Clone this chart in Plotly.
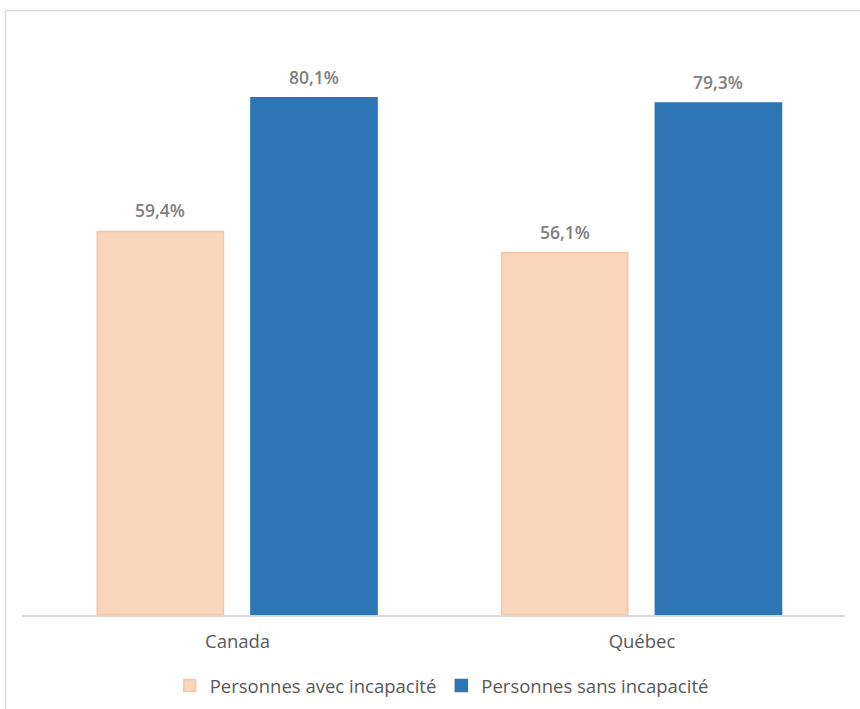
import plotly.graph_objects as go

# Taux d'emploi selon la présence d'une incapacité
categories = ["Canada", "Québec"]
series_names = ["Personnes avec incapacité", "Personnes sans incapacité"]
avec_incapacite = [59.4, 56.1]
sans_incapacite = [80.1, 79.3]

colors = ["#F9D5BC", "#2E75B6"]
edge_colors = ["#F6C7A4", "#2E75B6"]
offsets = [-0.347, 0.033]
bar_width = 0.312

W, H = 860, 709
margin = dict(l=22, r=15, t=30, b=94)
plot_w = W - margin["l"] - margin["r"]
plot_h = H - margin["t"] - margin["b"]

x_pos = list(range(len(categories)))
fig = go.Figure()
for name, vals, col, edge, off in zip(series_names, [avec_incapacite, sans_incapacite],
                                      colors, edge_colors, offsets):
    fig.add_trace(go.Bar(
        x=x_pos, y=vals, name=name, offset=off, width=bar_width,
        marker=dict(color=col, line=dict(color=edge, width=1.5)),
        hoverinfo="skip",
    ))
    for xi, v in zip(x_pos, vals):
        fig.add_annotation(
            x=xi + off + bar_width / 2, y=v, yshift=21,
            text=f"{v:.1f}%".replace(".", ","),
            showarrow=False,
            font=dict(size=17.5, color="#808080", family="Open Sans", weight=600),
        )

y_max = 90.6
# light frame on the top and left edges
top_y = 1 + (margin["t"] - 10.5) / plot_h
left_x = (5.5 - margin["l"]) / plot_w
fig.add_shape(type="line", xref="paper", yref="paper", x0=left_x, x1=1.1, y0=top_y, y1=top_y,
              line=dict(color="#D9D9D9", width=1.5))
fig.add_shape(type="line", xref="paper", yref="paper", x0=left_x, x1=left_x, y0=top_y, y1=-0.3,
              line=dict(color="#D9D9D9", width=1.5))

fig.update_layout(
    width=W, height=H, margin=margin,
    paper_bgcolor="white", plot_bgcolor="white",
    barmode="overlay",
    showlegend=True,
    legend=dict(orientation="h", x=0.51, xanchor="center",
                yref="container", y=1 - 686 / H, yanchor="middle",
                font=dict(size=18.5, color="#595959", family="Open Sans"),
                itemwidth=30, traceorder="normal"),
    xaxis=dict(range=[-0.533, 1.502], tickmode="array", tickvals=x_pos, ticktext=categories,
               showline=True, linecolor="#D9D9D9", linewidth=1.5, showgrid=False,
               zeroline=False, ticks="", ticklabelstandoff=9,
               tickfont=dict(size=18.5, color="#595959", family="Open Sans")),
    yaxis=dict(range=[0, y_max], visible=False, showgrid=False, zeroline=False),
)

fig.write_html("out.html")
